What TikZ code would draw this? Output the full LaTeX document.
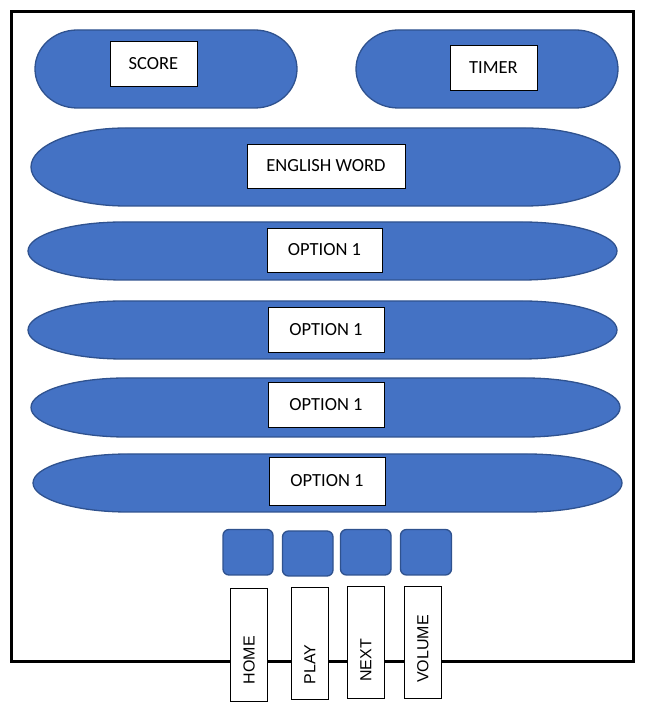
\documentclass[tikz,border=0pt]{standalone}
\usepackage{fontspec}
\setmainfont{Carlito}
\newfontfamily\arialfont{Liberation Sans}
\definecolor{fillblue}{HTML}{4472C4}
\definecolor{edgeblue}{HTML}{2F528F}
\tikzset{
  termstyle/.style={fill=fillblue,draw=edgeblue,line width=1.3pt},
  btnstyle/.style={fill=fillblue,draw=edgeblue,line width=1.3pt,rounded corners=6pt},
  labelbox/.style={draw=black,fill=white,line width=0.9pt,inner sep=0pt,font=\fontsize{18.5}{20}\selectfont},
  vbox/.style={draw=black,fill=white,line width=0.9pt},
  vtext/.style={font=\arialfont\fontsize{16}{18}\selectfont,rotate=90,anchor=west,inner sep=0pt}
}
\newcommand{\termshape}[4]{%
  \pgfmathsetmacro\rx{0.161*(#3-#1)}%
  \pgfmathsetmacro\ry{(#4-#2)/2}%
  \draw[termstyle] ({#1+\rx},{707-#2}) -- ({#3-\rx},{707-#2})
    arc[start angle=90,end angle=-90,x radius=\rx pt,y radius=\ry pt]
    -- ({#1+\rx},{707-#4})
    arc[start angle=270,end angle=90,x radius=\rx pt,y radius=\ry pt] -- cycle;}
\newcommand{\tbox}[6]{% name, x1, y1, x2, y2, text
  \node[labelbox,minimum width={(#4-#2)*1pt},minimum height={(#5-#3)*1pt}]
    (#1) at ({(#2+#4)/2},{707-(#3+#5)/2}) {#6};}
\begin{document}
\begin{tikzpicture}[x=1pt,y=1pt]
\useasboundingbox (0,0) rectangle (645,707);
% outer frame
\draw[line width=3pt] (11.5,{707-11.5}) rectangle (633.3,{707-662});
% terminators
\termshape{35}{30}{297}{108}
\termshape{356}{30}{618}{108}
\termshape{31}{128}{620}{206}
\termshape{28}{222}{617}{280}
\termshape{28}{301}{617}{359}
\termshape{31}{378}{620}{437}
\termshape{33}{454}{622}{512}
% label boxes
\tbox{score}{110}{41}{197}{86}{SCORE}
\tbox{timer}{450}{45}{537}{90}{TIMER}
\tbox{word}{247}{144}{405}{188}{ENGLISH WORD}
\tbox{opta}{267}{228}{382}{272}{OPTION 1}
\tbox{optb}{268}{307}{384}{352}{OPTION 1}
\tbox{optc}{268}{382}{384}{427}{OPTION 1}
\tbox{optd}{269}{457}{385}{505}{OPTION 1}
% buttons
\draw[btnstyle] (223,{707-529.5}) rectangle (273,{707-575});
\draw[btnstyle] (282.5,{707-531}) rectangle (333,{707-576});
\draw[btnstyle] (340.5,{707-529.5}) rectangle (391,{707-575});
\draw[btnstyle] (400.5,{707-529.5}) rectangle (451.5,{707-575});
% vertical labels
\draw[vbox] (230.7,{707-588}) rectangle (267.7,{707-701});
\draw[vbox] (291.3,{707-587}) rectangle (328.3,{707-699.5});
\draw[vbox] (347.3,{707-586}) rectangle (384.3,{707-698.5});
\draw[vbox] (404.3,{707-586}) rectangle (441.3,{707-698.5});
\node[vtext] (home) at (249.2,{707-684.5}) {HOME};
\node[vtext] (play) at (309.8,{707-684.5}) {PLAY};
\node[vtext] (next) at (365.8,{707-682}) {NEXT};
\node[vtext] (volume) at (422.8,{707-683}) {VOLUME};
\end{tikzpicture}
\end{document}
